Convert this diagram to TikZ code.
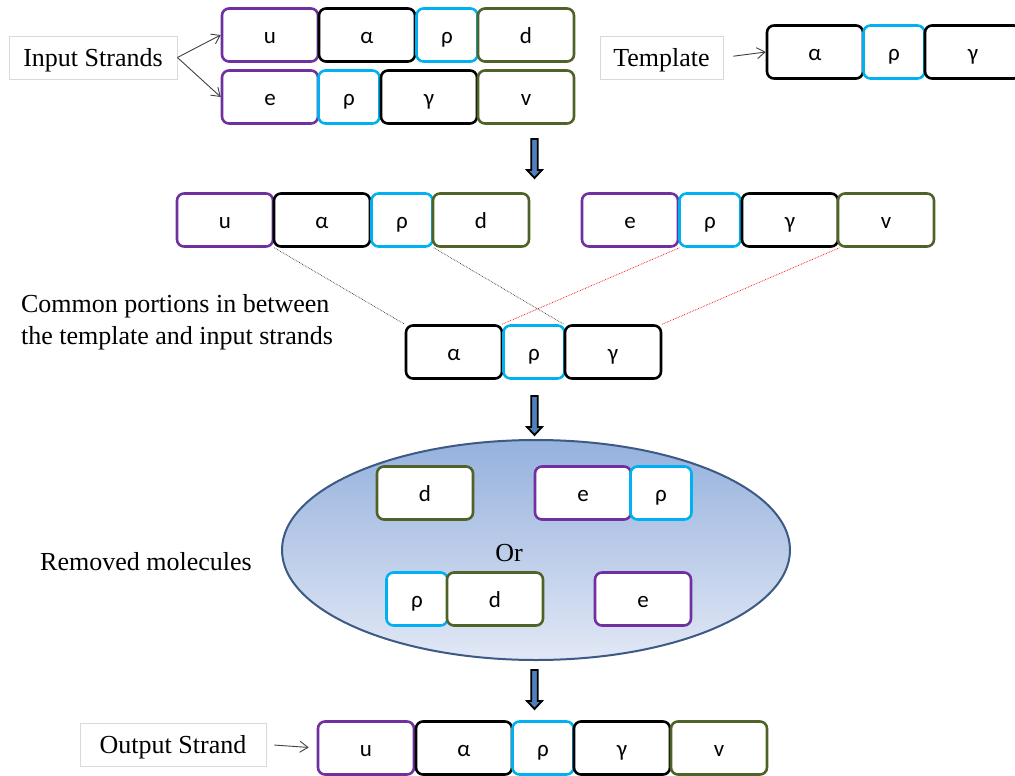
\documentclass[tikz,border=0pt]{standalone}
\usepackage{fontspec}
\setmainfont{Liberation Serif}
\newfontfamily\segfont{Carlito}
\usetikzlibrary{shapes.geometric,arrows.meta}
\definecolor{cpurple}{HTML}{7030A0}
\definecolor{ccyan}{HTML}{00B0F0}
\definecolor{colive}{HTML}{4F6228}
\definecolor{ebord}{HTML}{3C5A85}
\definecolor{etop}{HTML}{95B1DD}
\definecolor{ebot}{HTML}{E2E8F5}
\definecolor{lblgray}{HTML}{D9D9D9}
\definecolor{arrowblue}{HTML}{4F81BD}
\tikzset{
  seg/.style={draw=#1, line width=2.6pt, rounded corners=7pt, fill=white,
    minimum height=53pt, inner sep=0pt, text height=17pt, text depth=0pt,
    font=\segfont\fontsize{23}{27}\selectfont},
  wideseg/.style={seg=#1, minimum width=96pt},
  narrowseg/.style={seg=#1, minimum width=61pt},
  pseg/.style={wideseg=cpurple},
  kseg/.style={wideseg=black},
  gseg/.style={wideseg=colive},
  cseg/.style={narrowseg=ccyan},
  lblbox/.style={draw=lblgray, line width=0.8pt, minimum height=43pt, inner sep=0pt,
    text height=22pt, text depth=4pt, font=\fontsize{26}{32}\selectfont},
  plain/.style={font=\fontsize{26}{32}\selectfont, inner sep=0pt},
  pointer/.style={draw=black!75, line width=0.9pt, -{Straight Barb[length=8pt,width=11pt]}},
  blackdots/.style={draw=black!80, densely dotted, line width=0.7pt},
  reddots/.style={draw=red, densely dotted, line width=0.7pt},
  downarrow/.pic={
    \draw[line width=1.8pt, fill=arrowblue, line join=miter]
      (-3.2,0) -- (3.2,0) -- (3.2,31) -- (7.5,31) -- (0,39) -- (-7.5,31) -- (-3.2,31) -- cycle;
  }
}
\begin{document}
\begin{tikzpicture}[x=1pt, y=-1pt]
\useasboundingbox (0,0) rectangle (1015,776);

% input strands
\node[lblbox, minimum width=168pt] (inlbl) at (93,57.5) {Input Strands};
\node[pseg] (u1) at (270,35) {u};
\node[kseg] (a1) at (367,35) {α};
\node[cseg] (r1) at (447,35) {ρ};
\node[gseg] (d1) at (526,35) {d};
\node[pseg] (e2) at (270,97) {e};
\node[cseg] (r2) at (349,97) {ρ};
\node[kseg] (g2) at (429,97) {γ};
\node[gseg] (v2) at (526,97) {v};
\draw[pointer] (inlbl.east) -- (u1.west);
\draw[pointer] (inlbl.east) -- (e2.west);

% template
\node[lblbox, minimum width=123pt] (tlbl) at (661.5,57.5) {Template};
\node[kseg] (at) at (815,52) {α};
\node[cseg] (rt) at (894,52) {ρ};
\node[kseg] (gt) at (973,52) {γ};
\draw[pointer, shorten <=10pt] (tlbl.east) -- (at.west);

\pic at (534.5,139) {downarrow};

% strands lined up against the template
\node[pseg] (u3) at (225,220) {u};
\node[kseg] (a3) at (322,220) {α};
\node[cseg] (r3) at (402,220) {ρ};
\node[gseg] (d3) at (481,220) {d};
\node[pseg] (e3) at (630,220) {e};
\node[cseg] (r3b) at (710,220) {ρ};
\node[kseg] (g3) at (790,220) {γ};
\node[gseg] (v3) at (886,220) {v};

\node[kseg] (a4) at (454,352) {α};
\node[cseg] (r4) at (534,352) {ρ};
\node[kseg] (g4) at (613,352) {γ};

\draw[blackdots] (u3.south east) -- (a4.north west);
\draw[blackdots] (r3.south east) -- (g4.north west);
\draw[reddots] (e3.south east) -- (r4.north west);
\draw[reddots] (g3.south east) -- (g4.north east);

\node[plain, align=left] (common) at (177,322) {Common portions in between\\the template and input strands};

\pic at (534.5,396) {downarrow};

% removed molecules
\node[ellipse, minimum width=508pt, minimum height=220pt, draw=ebord, line width=2pt,
  top color=etop, bottom color=ebot] (pool) at (536,550) {};
\node[gseg] (d5) at (425,493) {d};
\node[pseg] (e5) at (583,493) {e};
\node[cseg] (r5) at (661,493) {ρ};
\node[plain] (orlbl) at (509,553) {Or};
\node[cseg] (r6) at (417,599) {ρ};
\node[gseg] (d6) at (495,599) {d};
\node[pseg] (e6) at (643,599) {e};
\node[plain] (removed) at (146,562) {Removed molecules};

\pic at (534.5,670) {downarrow};

% output strand
\node[lblbox, minimum width=186pt] (outlbl) at (173,744.5) {Output Strand};
\node[pseg] (u7) at (366,748) {u};
\node[kseg] (a7) at (464,748) {α};
\node[cseg] (r7) at (543,748) {ρ};
\node[kseg] (g7) at (622,748) {γ};
\node[gseg] (v7) at (719,748) {v};
\draw[pointer, shorten <=8pt, shorten >=8pt] (outlbl.east) -- (u7.west);
\end{tikzpicture}
\end{document}
